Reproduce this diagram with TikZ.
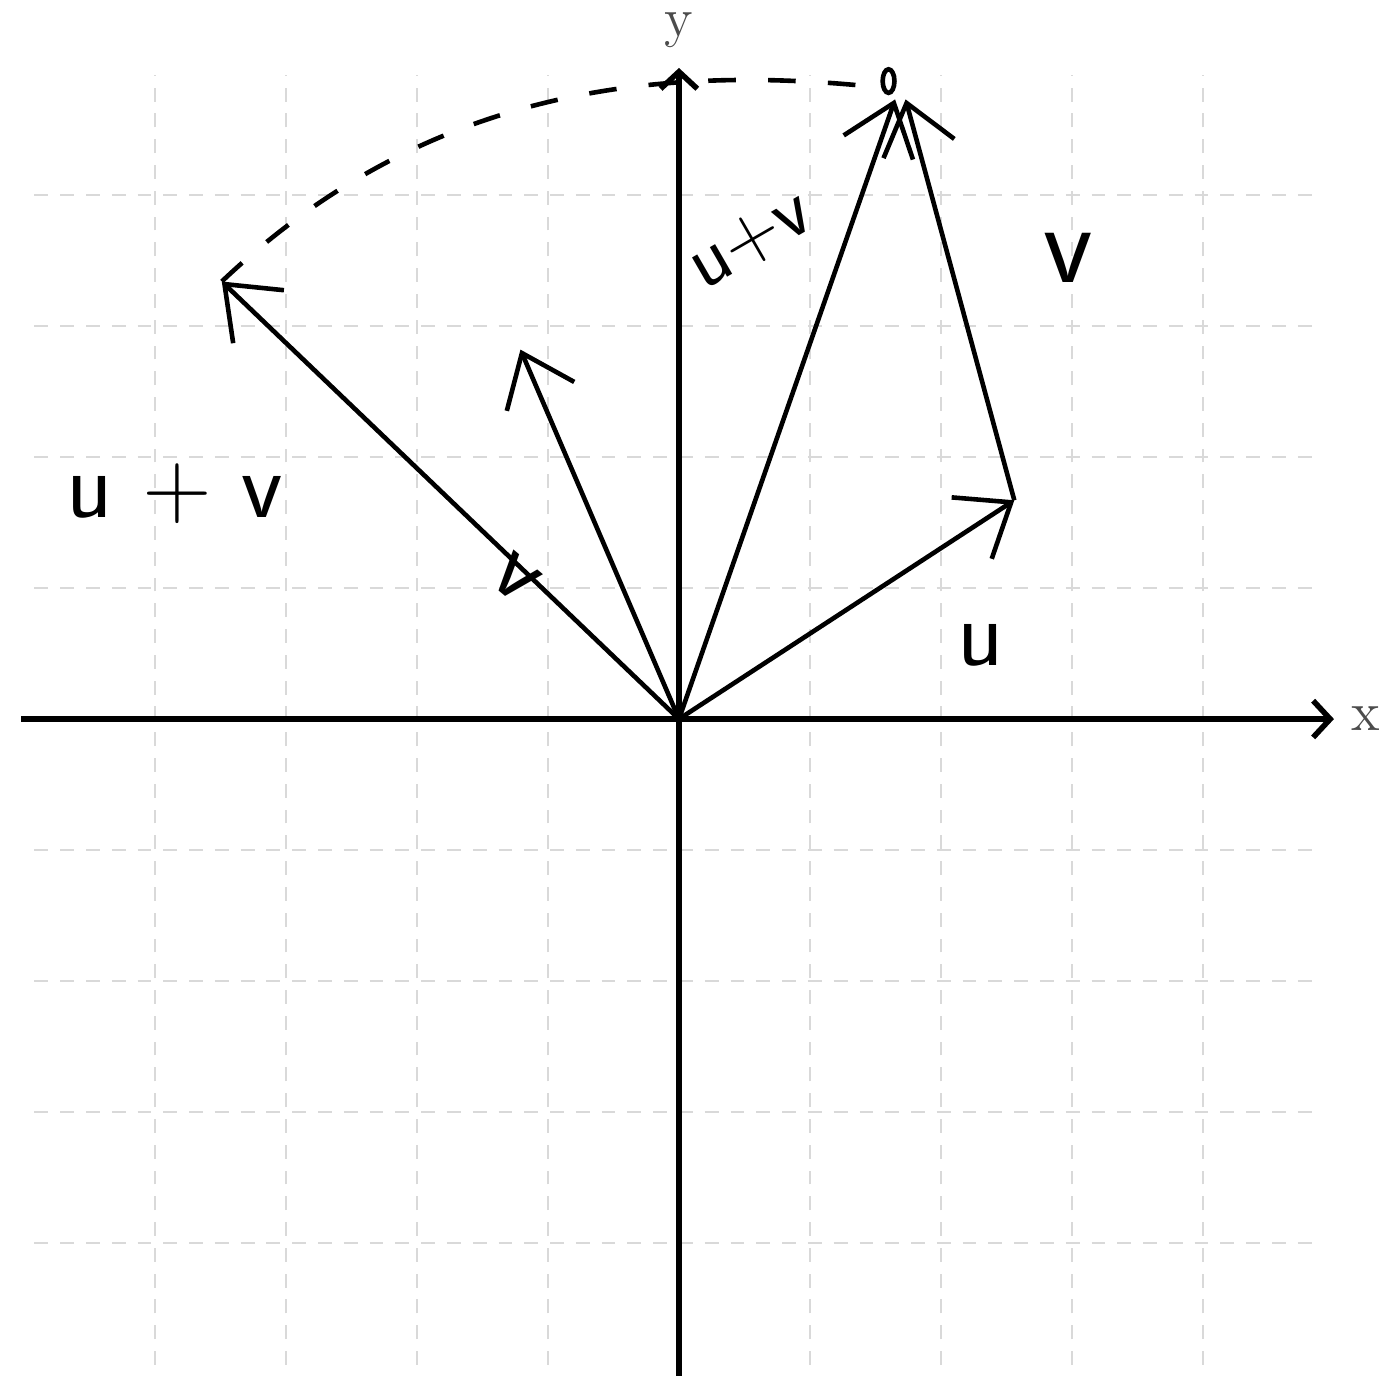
\documentclass[tikz,border=0pt]{standalone}
\usetikzlibrary{arrows.meta}
\begin{document}
\begin{tikzpicture}[
    gitter/.style={gray!30, line width=0.5pt, dash pattern=on 3pt off 2.6pt},
    achse/.style={line width=1.2pt, -{Straight Barb[length=1.3mm, width=2.8mm]}},
    vektor/.style={line width=1pt, -{Straight Barb[length=3.6mm, width=5.6mm]}},
    hand/.style={font=\sffamily\huge}
]
    \useasboundingbox (-5.183,-5.015) rectangle (5.344,5.489);

    % Gitter
    \foreach \i in {-4,...,-1,1,2,3,4} {
        \draw[gitter] (\i,-4.93) -- (\i,4.92);
        \draw[gitter] (-4.92,\i) -- (4.89,\i);
    }

    % Achsen
    \coordinate (xa) at (-5.02,0);
    \coordinate (xe) at (5.0,0);
    \coordinate (ya) at (0,-5.02);
    \coordinate (ye) at (0,4.97);
    \draw[achse] (xa) -- (xe);
    \draw[achse] (ya) -- (ye);
    \node[gray!60!black, font=\large, inner sep=0pt] (xl) at (5.24,0) {x};
    \node[gray!60!black, font=\large, inner sep=0pt] (yl) at (0,5.26) {y};

    % Vektoren
    \coordinate (O) at (0,0);
    \coordinate (U) at (2.56,1.67);
    \coordinate (UV) at (1.65,4.73);
    \coordinate (UVt) at (1.73,4.73);
    \coordinate (V) at (-1.21,2.82);
    \coordinate (R) at (-3.49,3.34);
    \draw[vektor] (O) -- (U);
    \draw[vektor] (U) -- (UVt);
    \draw[vektor] (O) -- (UV);
    \draw[vektor] (O) -- (V);
    \draw[vektor] (O) -- (R);

    % Drehung (gestrichelt)
    \coordinate (Bend) at (1.55,4.82);
    \draw[line width=1pt, dash pattern=on 6pt off 7pt] (R) .. controls (-2.0,4.75) and (-0.3,5.02) .. (Bend);
    \draw[line width=1pt] (1.6,4.87) ellipse (0.045 and 0.09);

    % Beschriftung
    \node[hand] (lu) at (2.30,0.56) {u};
    \node[font=\sffamily\Huge] (lv) at (2.97,3.52) {v};
    \node[hand] (luvl) at (-3.85,1.72) {u + v};
    \node[font=\sffamily\LARGE, rotate=30, inner sep=0pt] (luvr) at (0.55,3.65) {u+v};
    \node[hand, rotate=-40] (lvr) at (-1.25,1.08) {v};
\end{tikzpicture}
\end{document}
